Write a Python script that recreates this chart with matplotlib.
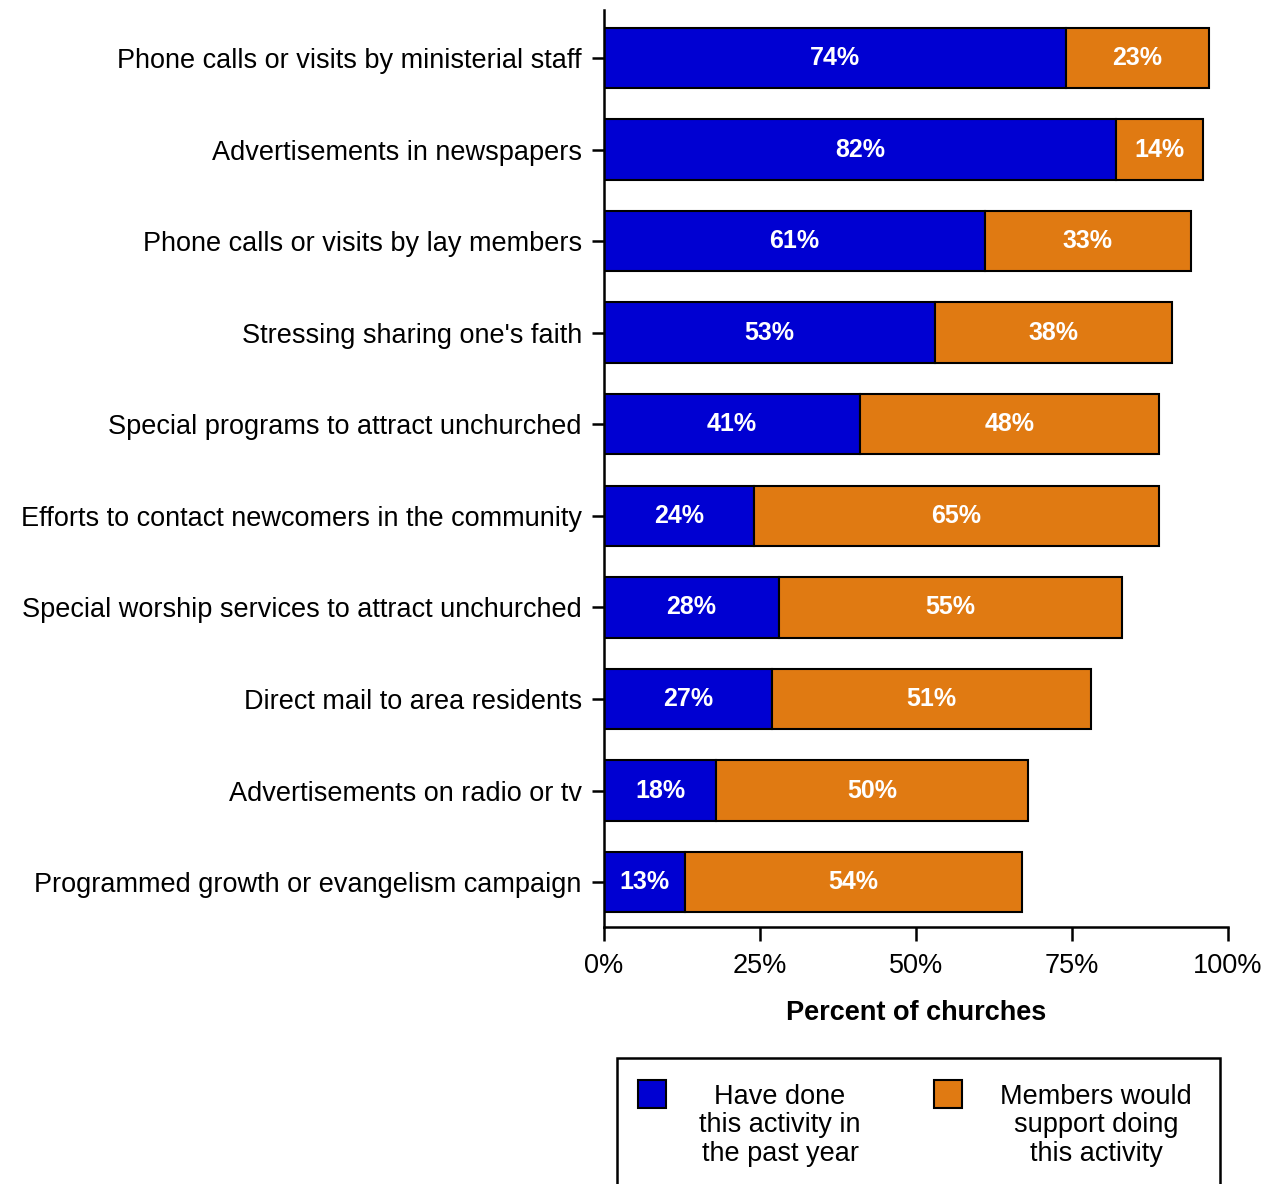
import matplotlib
matplotlib.use('Agg')
import numpy as np
import matplotlib.pyplot as plt
from matplotlib.patches import Rectangle

categories = [
    'Phone calls or visits by ministerial staff',
    'Advertisements in newspapers',
    'Phone calls or visits by lay members',
    "Stressing sharing one's faith",
    'Special programs to attract unchurched',
    'Efforts to contact newcomers in the community',
    'Special worship services to attract unchurched',
    'Direct mail to area residents',
    'Advertisements on radio or tv',
    'Programmed growth or evangelism campaign',
]
have_done = [74, 82, 61, 53, 41, 24, 28, 27, 18, 13]
would_support = [23, 14, 33, 38, 48, 65, 55, 51, 50, 54]
x_ticks = [0, 25, 50, 75, 100]
legend_labels = ['Have done\nthis activity in\nthe past year',
                 'Members would\nsupport doing\nthis activity']

blue = '#0000D2'
orange = '#E07A12'

plt.rcParams['font.family'] = ['Liberation Sans', 'DejaVu Sans']

W, H = 1272, 1184
fig = plt.figure(figsize=(W / 100, H / 100), dpi=100)
ax = fig.add_axes([604 / W, 1 - 927 / H, 624 / W, 917 / H])

y = np.arange(len(categories))
b1 = ax.barh(y, have_done, height=0.66, color=blue, edgecolor='black', linewidth=1.5)
b2 = ax.barh(y, would_support, left=have_done, height=0.66, color=orange,
             edgecolor='black', linewidth=1.5)

for bars, vals in ((b1, have_done), (b2, would_support)):
    ax.bar_label(bars, labels=[f'{v}%' for v in vals], label_type='center',
                 color='white', fontsize=18, fontweight='bold')

ax.set_ylim(9.49, -0.524)
ax.set_xlim(0, 100)
ax.set_yticks(y)
ax.set_yticklabels(categories, fontsize=19.5)
ax.set_xticks(x_ticks)
ax.set_xticklabels([f'{t}%' for t in x_ticks], fontsize=19.5)
ax.set_xlabel('Percent of churches', fontsize=19.5, fontweight='bold', labelpad=15)

for s in ('top', 'right'):
    ax.spines[s].set_visible(False)
for s in ('left', 'bottom'):
    ax.spines[s].set_linewidth(1.8)
ax.tick_params(axis='y', length=9, width=1.8, pad=7)
ax.tick_params(axis='x', length=10, width=1.8, pad=9)

# legend box, running off the bottom of the figure
fig.patches.append(Rectangle((617 / W, -0.05), (1220 - 617) / W, 0.05 + (1184 - 1058) / H,
                             transform=fig.transFigure, facecolor='white',
                             edgecolor='black', linewidth=1.8))
for (sx, tx), col, lab in zip(((638, 780), (934, 1096)), (blue, orange), legend_labels):
    fig.patches.append(Rectangle((sx / W, 1 - 1108 / H), 28 / W, 28 / H,
                                 transform=fig.transFigure, facecolor=col,
                                 edgecolor='black', linewidth=1.5))
    fig.text(tx / W, 1 - 1084 / H, lab, ha='center', va='top', fontsize=19.5,
             multialignment='center', linespacing=1.12)

fig.savefig('out.png', dpi=100)
